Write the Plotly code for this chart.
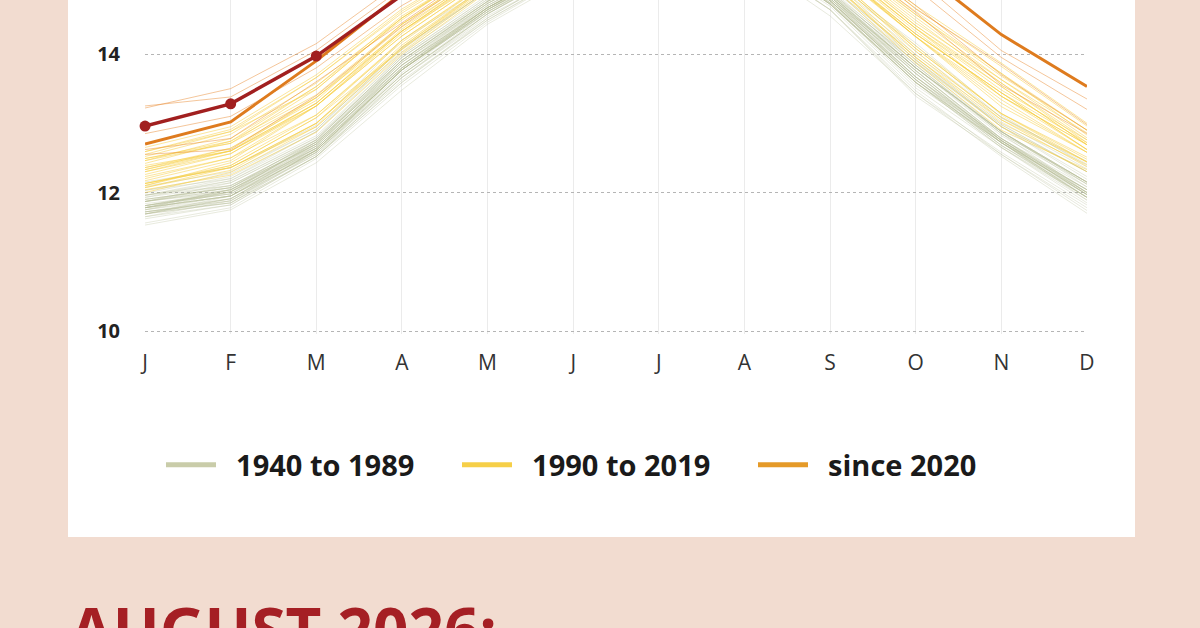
import plotly.graph_objects as go

months = ["J", "F", "M", "A", "M", "J", "J", "A", "S", "O", "N", "D"]
month_idx = list(range(12))

# Global mean surface air temperature (°C), one row per year
years_1940_1989 = list(range(1940, 1990))
temps_1940_1989 = [
    [11.84, 11.98, 12.67, 13.84, 14.67, 15.35, 15.73, 15.65, 14.86, 13.76, 12.75, 12.04],
    [11.90, 12.07, 12.70, 13.91, 14.73, 15.40, 15.78, 15.70, 14.88, 13.88, 12.88, 12.08],
    [11.87, 12.04, 12.64, 13.80, 14.64, 15.33, 15.70, 15.63, 14.77, 13.63, 12.75, 11.97],
    [11.78, 12.01, 12.73, 13.84, 14.73, 15.38, 15.75, 15.65, 14.83, 13.80, 12.82, 12.12],
    [11.87, 12.14, 12.76, 13.95, 14.76, 15.43, 15.83, 15.70, 14.91, 13.84, 12.85, 12.15],
    [11.90, 12.07, 12.70, 13.80, 14.70, 15.35, 15.78, 15.65, 14.80, 13.67, 12.78, 12.00],
    [11.75, 12.01, 12.64, 13.77, 14.61, 15.30, 15.70, 15.58, 14.77, 13.63, 12.68, 11.93],
    [11.78, 11.95, 12.67, 13.84, 14.67, 15.30, 15.73, 15.65, 14.80, 13.76, 12.78, 12.08],
    [11.81, 11.98, 12.61, 13.77, 14.67, 15.30, 15.68, 15.60, 14.74, 13.67, 12.72, 12.00],
    [11.72, 11.91, 12.61, 13.70, 14.61, 15.25, 15.68, 15.55, 14.74, 13.59, 12.72, 11.89],
    [11.56, 11.78, 12.49, 13.55, 14.46, 15.18, 15.55, 15.45, 14.64, 13.39, 12.55, 11.74],
    [11.65, 11.88, 12.58, 13.77, 14.64, 15.33, 15.73, 15.63, 14.83, 13.76, 12.78, 12.04],
    [11.81, 12.01, 12.64, 13.77, 14.61, 15.30, 15.70, 15.60, 14.77, 13.63, 12.72, 11.93],
    [11.78, 12.04, 12.73, 13.88, 14.70, 15.35, 15.75, 15.65, 14.80, 13.72, 12.75, 12.00],
    [11.72, 11.85, 12.52, 13.66, 14.55, 15.20, 15.63, 15.50, 14.69, 13.51, 12.65, 11.85],
    [11.62, 11.82, 12.52, 13.59, 14.49, 15.20, 15.58, 15.50, 14.64, 13.47, 12.55, 11.78],
    [11.53, 11.75, 12.43, 13.48, 14.43, 15.13, 15.53, 15.40, 14.55, 13.43, 12.52, 11.70],
    [11.69, 11.91, 12.61, 13.77, 14.67, 15.33, 15.75, 15.65, 14.86, 13.80, 12.85, 12.15],
    [11.93, 12.10, 12.73, 13.84, 14.70, 15.33, 15.75, 15.63, 14.80, 13.67, 12.78, 12.04],
    [11.81, 11.98, 12.70, 13.80, 14.67, 15.33, 15.70, 15.63, 14.83, 13.72, 12.75, 12.04],
    [11.81, 12.01, 12.61, 13.77, 14.64, 15.28, 15.70, 15.60, 14.77, 13.67, 12.72, 12.00],
    [11.78, 12.04, 12.67, 13.84, 14.67, 15.33, 15.73, 15.63, 14.80, 13.76, 12.78, 12.00],
    [11.78, 11.95, 12.64, 13.77, 14.64, 15.33, 15.70, 15.60, 14.77, 13.63, 12.75, 11.97],
    [11.78, 11.95, 12.64, 13.80, 14.67, 15.33, 15.75, 15.65, 14.86, 13.84, 12.85, 12.00],
    [11.75, 11.91, 12.55, 13.62, 14.49, 15.18, 15.58, 15.45, 14.64, 13.43, 12.58, 11.82],
    [11.65, 11.82, 12.52, 13.59, 14.52, 15.23, 15.65, 15.55, 14.72, 13.63, 12.68, 11.97],
    [11.78, 11.95, 12.58, 13.70, 14.58, 15.28, 15.68, 15.58, 14.72, 13.59, 12.68, 11.93],
    [11.72, 11.88, 12.61, 13.73, 14.64, 15.28, 15.68, 15.60, 14.77, 13.72, 12.72, 11.93],
    [11.69, 11.95, 12.58, 13.66, 14.58, 15.25, 15.65, 15.55, 14.72, 13.59, 12.72, 11.97],
    [11.81, 12.04, 12.70, 13.88, 14.73, 15.35, 15.78, 15.68, 14.83, 13.80, 12.88, 12.15],
    [11.87, 12.10, 12.67, 13.80, 14.67, 15.30, 15.73, 15.60, 14.77, 13.67, 12.75, 11.97],
    [11.72, 11.88, 12.55, 13.70, 14.58, 15.25, 15.65, 15.58, 14.74, 13.59, 12.72, 11.93],
    [11.69, 11.91, 12.61, 13.77, 14.64, 15.33, 15.73, 15.65, 14.83, 13.80, 12.88, 12.15],
    [11.96, 12.17, 12.79, 13.91, 14.76, 15.40, 15.78, 15.68, 14.83, 13.72, 12.75, 11.97],
    [11.69, 11.85, 12.58, 13.70, 14.58, 15.28, 15.65, 15.58, 14.72, 13.59, 12.65, 11.93],
    [11.75, 11.95, 12.61, 13.77, 14.61, 15.28, 15.68, 15.58, 14.72, 13.59, 12.65, 11.89],
    [11.69, 11.85, 12.52, 13.66, 14.52, 15.23, 15.65, 15.55, 14.72, 13.55, 12.72, 12.04],
    [11.87, 12.07, 12.76, 13.95, 14.79, 15.43, 15.80, 15.70, 14.86, 13.80, 12.88, 12.12],
    [11.87, 12.04, 12.70, 13.88, 14.73, 15.38, 15.78, 15.65, 14.86, 13.80, 12.88, 12.15],
    [11.87, 12.01, 12.73, 13.91, 14.76, 15.40, 15.80, 15.73, 14.91, 13.92, 12.95, 12.30],
    [11.96, 12.20, 12.82, 13.98, 14.82, 15.45, 15.85, 15.75, 14.94, 13.88, 12.95, 12.23],
    [12.03, 12.20, 12.88, 14.02, 14.85, 15.45, 15.88, 15.78, 14.97, 13.92, 12.98, 12.30],
    [11.96, 12.10, 12.73, 13.91, 14.76, 15.38, 15.80, 15.70, 14.88, 13.88, 12.98, 12.30],
    [12.09, 12.30, 12.91, 14.09, 14.91, 15.50, 15.90, 15.83, 14.99, 13.96, 12.95, 12.19],
    [11.96, 12.14, 12.76, 13.95, 14.79, 15.40, 15.80, 15.70, 14.91, 13.84, 12.88, 12.12],
    [11.90, 12.07, 12.76, 13.91, 14.76, 15.38, 15.80, 15.70, 14.88, 13.80, 12.88, 12.15],
    [11.93, 12.17, 12.79, 13.98, 14.82, 15.45, 15.85, 15.78, 14.97, 14.00, 13.02, 12.34],
    [12.03, 12.27, 12.91, 14.09, 14.91, 15.55, 15.95, 15.85, 15.05, 14.12, 13.08, 12.41],
    [12.15, 12.36, 12.97, 14.20, 14.97, 15.58, 15.98, 15.90, 15.08, 14.16, 13.12, 12.38],
    [11.99, 12.23, 12.88, 14.06, 14.91, 15.50, 15.93, 15.83, 15.02, 14.04, 13.08, 12.45],
]

years_1990_2019 = list(range(1990, 2020))
temps_1990_2019 = [
    [12.10, 12.39, 13.08, 14.07, 14.95, 15.65, 16.05, 15.95, 15.03, 13.95, 13.05, 12.37],
    [12.07, 12.36, 12.95, 14.10, 14.98, 15.69, 16.10, 15.98, 15.06, 13.95, 13.00, 12.40],
    [12.04, 12.25, 12.87, 14.00, 14.90, 15.60, 16.00, 15.90, 15.00, 13.87, 12.90, 12.33],
    [12.00, 12.29, 12.95, 14.03, 14.93, 15.63, 16.03, 15.93, 15.06, 13.91, 12.95, 12.30],
    [12.07, 12.32, 13.00, 14.10, 15.00, 15.69, 16.08, 15.98, 15.12, 14.08, 13.14, 12.51],
    [12.20, 12.50, 13.12, 14.17, 15.03, 15.74, 16.15, 16.05, 15.15, 14.12, 13.14, 12.44],
    [12.13, 12.36, 13.00, 14.07, 14.98, 15.67, 16.10, 16.00, 15.09, 13.99, 13.09, 12.44],
    [12.13, 12.39, 13.08, 14.20, 15.05, 15.76, 16.18, 16.10, 15.27, 14.29, 13.44, 12.72],
    [12.55, 12.88, 13.49, 14.52, 15.28, 15.92, 16.38, 16.25, 15.30, 14.25, 13.24, 12.58],
    [12.13, 12.36, 13.00, 14.13, 15.00, 15.69, 16.13, 16.03, 15.15, 14.04, 13.05, 12.44],
    [12.10, 12.43, 13.12, 14.20, 15.03, 15.72, 16.13, 16.05, 15.18, 14.08, 13.14, 12.48],
    [12.23, 12.50, 13.25, 14.26, 15.10, 15.78, 16.23, 16.13, 15.27, 14.25, 13.39, 12.62],
    [12.36, 12.64, 13.37, 14.33, 15.15, 15.83, 16.25, 16.13, 15.30, 14.29, 13.44, 12.62],
    [12.36, 12.60, 13.25, 14.30, 15.15, 15.83, 16.25, 16.18, 15.33, 14.37, 13.39, 12.69],
    [12.33, 12.60, 13.29, 14.33, 15.10, 15.78, 16.20, 16.13, 15.27, 14.29, 13.44, 12.62],
    [12.39, 12.60, 13.37, 14.43, 15.20, 15.90, 16.30, 16.20, 15.39, 14.41, 13.53, 12.69],
    [12.30, 12.60, 13.29, 14.33, 15.18, 15.85, 16.30, 16.18, 15.36, 14.37, 13.48, 12.76],
    [12.49, 12.71, 13.37, 14.39, 15.18, 15.83, 16.25, 16.15, 15.27, 14.25, 13.29, 12.58],
    [12.17, 12.46, 13.25, 14.26, 15.10, 15.78, 16.23, 16.10, 15.24, 14.25, 13.34, 12.58],
    [12.30, 12.56, 13.29, 14.36, 15.20, 15.87, 16.33, 16.25, 15.42, 14.41, 13.58, 12.76],
    [12.52, 12.84, 13.58, 14.52, 15.30, 15.94, 16.35, 16.25, 15.36, 14.37, 13.53, 12.69],
    [12.26, 12.56, 13.25, 14.33, 15.18, 15.87, 16.30, 16.20, 15.33, 14.33, 13.39, 12.69],
    [12.33, 12.64, 13.33, 14.43, 15.25, 15.92, 16.33, 16.25, 15.45, 14.49, 13.58, 12.72],
    [12.42, 12.74, 13.41, 14.43, 15.25, 15.92, 16.35, 16.25, 15.42, 14.45, 13.63, 12.79],
    [12.46, 12.71, 13.49, 14.52, 15.33, 15.96, 16.38, 16.30, 15.48, 14.53, 13.63, 12.86],
    [12.46, 12.78, 13.53, 14.49, 15.33, 16.01, 16.43, 16.35, 15.57, 14.70, 13.87, 13.00],
    [12.65, 12.95, 13.70, 14.65, 15.38, 16.01, 16.48, 16.40, 15.54, 14.57, 13.72, 12.83],
    [12.59, 12.91, 13.66, 14.59, 15.35, 15.98, 16.45, 16.35, 15.51, 14.62, 13.72, 12.90],
    [12.49, 12.74, 13.53, 14.55, 15.30, 15.96, 16.40, 16.30, 15.48, 14.57, 13.68, 12.90],
    [12.59, 12.88, 13.66, 14.62, 15.38, 16.05, 16.50, 16.38, 15.60, 14.66, 13.82, 12.96],
]

years_since_2020 = [2020, 2021, 2022, 2024, 2025]
temps_since_2020 = [
    [12.85, 13.10, 13.80, 14.70, 15.40, 16.00, 16.45, 16.35, 15.65, 14.65, 13.85, 12.98],
    [12.55, 12.62, 13.40, 14.40, 15.25, 15.95, 16.55, 16.40, 15.65, 14.70, 13.70, 12.90],
    [12.62, 12.78, 13.60, 14.45, 15.30, 16.05, 16.55, 16.45, 15.55, 14.60, 13.55, 12.85],
    [13.22, 13.50, 14.15, 15.05, 15.90, 16.65, 17.00, 16.90, 16.15, 15.10, 14.05, 13.35],
    [13.25, 13.38, 14.05, 14.95, 15.75, 16.45, 16.90, 16.75, 16.00, 14.95, 13.95, 13.20],
]

temps_2023 = [12.70, 13.02, 13.90, 14.88, 15.65, 16.45, 17.05, 16.95, 16.40, 15.25, 14.28, 13.53]
temps_2026 = [12.96, 13.28, 13.97, 14.85, 15.55, 16.30, 16.75]

legend_labels = ["1940 to 1989", "1990 to 2019", "since 2020"]
y_ticks = [10, 12, 14]
title_text = "AUGUST 2026:"

# ---------------------------------------------------------------- styles
GREEN = "rgba(178,186,146,0.30)"
YELLOW = "rgba(248,206,62,0.50)"
ORANGE_THIN = "rgba(232,136,46,0.48)"
ORANGE_THICK = "#de7b1e"
DARK_RED = "#a11f1f"
BG = "#f2dcd0"

fig = go.Figure()

for yr, vals in zip(years_1940_1989, temps_1940_1989):
    fig.add_trace(go.Scatter(x=month_idx, y=vals, mode="lines", name=str(yr),
                             line=dict(color=GREEN, width=1), showlegend=False,
                             cliponaxis=False, hoverinfo="skip"))
for yr, vals in zip(years_1990_2019, temps_1990_2019):
    fig.add_trace(go.Scatter(x=month_idx, y=vals, mode="lines", name=str(yr),
                             line=dict(color=YELLOW, width=1), showlegend=False,
                             cliponaxis=False, hoverinfo="skip"))
for yr, vals in zip(years_since_2020, temps_since_2020):
    fig.add_trace(go.Scatter(x=month_idx, y=vals, mode="lines", name=str(yr),
                             line=dict(color=ORANGE_THIN, width=1), showlegend=False,
                             cliponaxis=False, hoverinfo="skip"))
fig.add_trace(go.Scatter(x=month_idx, y=temps_2023, mode="lines", name="2023",
                         line=dict(color=ORANGE_THICK, width=3), showlegend=False,
                         cliponaxis=False))
fig.add_trace(go.Scatter(x=month_idx[:len(temps_2026)], y=temps_2026, mode="lines+markers",
                         name="2026", line=dict(color=DARK_RED, width=3.5),
                         marker=dict(color=DARK_RED, size=11), showlegend=False,
                         cliponaxis=False))

# legend keys
for lab, col in zip(legend_labels, ["#c9cca9", "#f6cf48", "#e59a28"]):
    fig.add_trace(go.Scatter(x=[None], y=[None], mode="lines", name="  " + lab,
                             line=dict(color=col, width=5), showlegend=True))

L, R, T, B = 145, 113, 0, 294
PH = 628 - T - B
PW = 1200 - L - R
px_per_unit = 69.25
y_top = 10 + 331 / px_per_unit
y_bot = y_top - PH / px_per_unit


def px_x(p):
    return (p - L) / PW


def px_y(p):
    return (T + PH - p) / PH


fig.add_shape(type="rect", xref="paper", yref="paper",
              x0=px_x(68), x1=px_x(1135), y0=px_y(537), y1=px_y(-20),
              fillcolor="white", line=dict(width=0), layer="below")

fig.add_annotation(text=title_text, xref="paper", yref="paper",
                   x=px_x(68), y=px_y(585), xanchor="left", yanchor="top",
                   showarrow=False,
                   font=dict(family="Open Sans", size=62, color="#a51f24", weight=700))

fig.update_layout(
    width=1200, height=628,
    margin=dict(l=L, r=R, t=T, b=B, pad=0),
    paper_bgcolor=BG, plot_bgcolor="rgba(0,0,0,0)",
    showlegend=True,
    legend=dict(orientation="h", x=px_x(161), xanchor="left",
                y=px_y(465), yanchor="middle",
                font=dict(family="Open Sans", size=29, color="#1a1a1a", weight=700),
                itemwidth=50, bgcolor="rgba(0,0,0,0)",
                entrywidth=231, entrywidthmode="pixels"),
    font=dict(family="Open Sans"),
)

fig.update_xaxes(range=[-0.0005, 11.0005], tickmode="array", tickvals=month_idx,
                 ticktext=months, showgrid=True, gridcolor="#ebebeb", gridwidth=1.2,
                 zeroline=False, showline=False, ticks="", ticklabelstandoff=14,
                 tickfont=dict(family="Open Sans", size=21, color="#333333"))
fig.update_yaxes(range=[y_bot, y_top], tickmode="array", tickvals=y_ticks,
                 ticktext=[str(v) for v in y_ticks], showgrid=True,
                 gridcolor="#b5b5b5", griddash="dot", gridwidth=1.2,
                 zeroline=False, showline=False, ticks="", ticklabelstandoff=24,
                 tickfont=dict(family="Open Sans", size=20, color="#222222", weight=700))

fig.write_html("out.html", config={"displayModeBar": False},
               post_script="document.body.style.margin='0';")
